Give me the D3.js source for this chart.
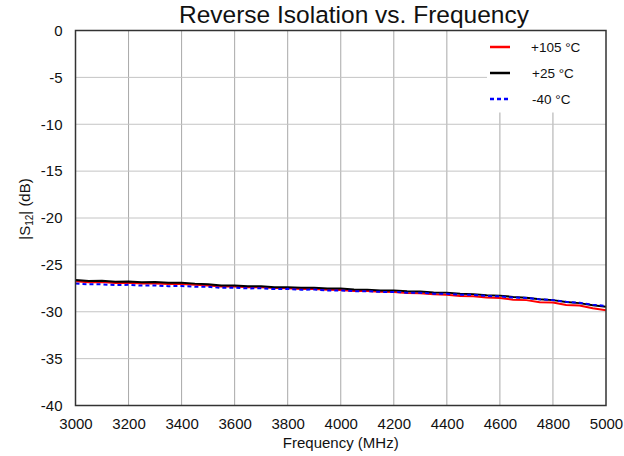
<!DOCTYPE html>
<html>
<head>
<meta charset="utf-8">
<script src="https://cdn.jsdelivr.net/npm/d3@7"></script>
<style>
  body { margin: 0; background: #fff; }
  text { font-family: "Liberation Sans", Arial, sans-serif; fill: #111; }
</style>
</head>
<body>
<div id="chart"></div>
<script>
const WIDTH = 624,
  HEIGHT = 456,
  MARGIN = { top: 30.5, right: 18, bottom: 50.5, left: 75.5 };

// frequency points, 50 MHz spacing
const freqs = d3.range(3000, 5001, 50);

const s12_hot = [
  -26.74, -26.84, -26.83, -26.92, -26.90, -26.99, -26.98, -27.04, -27.03, -27.12,
  -27.19, -27.31, -27.30, -27.38, -27.40, -27.47, -27.50, -27.57, -27.58, -27.66,
  -27.68, -27.78, -27.79, -27.88, -27.90, -28.00, -28.02, -28.14, -28.18, -28.32,
  -28.34, -28.48, -28.54, -28.72, -28.76, -28.98, -29.02, -29.28, -29.33, -29.62,
  -29.84
];
const s12_room = [
  -26.62, -26.72, -26.70, -26.80, -26.78, -26.85, -26.84, -26.90, -26.90, -27.00,
  -27.06, -27.20, -27.20, -27.28, -27.28, -27.38, -27.38, -27.44, -27.44, -27.52,
  -27.53, -27.62, -27.64, -27.72, -27.72, -27.82, -27.84, -27.94, -27.96, -28.08,
  -28.12, -28.24, -28.28, -28.42, -28.50, -28.66, -28.76, -28.96, -29.08, -29.30,
  -29.46
];
const s12_cold = [
  -26.98, -27.07, -27.08, -27.15, -27.13, -27.21, -27.19, -27.27, -27.26, -27.33,
  -27.34, -27.45, -27.43, -27.51, -27.50, -27.58, -27.56, -27.65, -27.63, -27.72,
  -27.72, -27.80, -27.80, -27.88, -27.88, -27.97, -27.98, -28.07, -28.08, -28.18,
  -28.20, -28.32, -28.36, -28.48, -28.53, -28.68, -28.76, -28.94, -29.04, -29.24,
  -29.38
];

const series_names = ["+105 °C", "+25 °C", "-40 °C"];
const series_values = [s12_hot, s12_room, s12_cold];
const series_colors = ["#ff0000", "#000000", "#0000ff"];
const series_dash = [null, null, "4,3"];

const x_ticks = d3.range(3000, 5001, 200);
const y_ticks = d3.range(-40, 1, 5);

const FONT = "Liberation Sans, Arial, sans-serif";

var svg = d3
  .select("#chart")
  .append("svg")
  .attr("width", WIDTH)
  .attr("height", HEIGHT);

var x = d3
  .scaleLinear()
  .domain([3000, 5000])
  .range([MARGIN.left, WIDTH - MARGIN.right]);

var y = d3
  .scaleLinear()
  .domain([-40, 0])
  .range([HEIGHT - MARGIN.bottom, MARGIN.top]);

// grid
svg
  .append("g")
  .selectAll("line")
  .data(x_ticks.slice(1, -1))
  .enter()
  .append("line")
  .attr("x1", d => x(d))
  .attr("x2", d => x(d))
  .attr("y1", y(0))
  .attr("y2", y(-40))
  .attr("stroke", "#a8a8a8")
  .attr("stroke-width", 1);

svg
  .append("g")
  .selectAll("line")
  .data(y_ticks.slice(1, -1))
  .enter()
  .append("line")
  .attr("x1", x(3000))
  .attr("x2", x(5000))
  .attr("y1", d => y(d))
  .attr("y2", d => y(d))
  .attr("stroke", "#c4c4c4")
  .attr("stroke-width", 1);

// axes (labels only, no tick marks); plain hyphen for negatives
var plain = d => String(d);

var x_axis = svg
  .append("g")
  .attr("transform", "translate(0," + y(-40) + ")")
  .call(
    d3.axisBottom(x)
      .tickValues(x_ticks)
      .tickFormat(plain)
      .tickSize(0)
      .tickPadding(13)
  );
x_axis.select(".domain").remove();
x_axis.selectAll("text")
  .style("font-size", "15px")
  .style("font-family", FONT)
  .attr("fill", "#111");

var y_axis = svg
  .append("g")
  .attr("transform", "translate(" + x(3000) + ",0)")
  .call(
    d3.axisLeft(y)
      .tickValues(y_ticks)
      .tickFormat(plain)
      .tickSize(0)
      .tickPadding(13)
  );
y_axis.select(".domain").remove();
y_axis.selectAll("text")
  .style("font-size", "15px")
  .style("font-family", FONT)
  .attr("fill", "#111");

// data lines
var line = d3
  .line()
  .x((d, i) => x(freqs[i]))
  .y(d => y(d));

series_values.forEach(function(vals, i) {
  svg
    .append("path")
    .datum(vals)
    .attr("d", line)
    .attr("fill", "none")
    .attr("stroke", series_colors[i])
    .attr("stroke-width", 2)
    .attr("stroke-dasharray", series_dash[i]);
});

// legend
var legend = svg.append("g");
legend
  .append("rect")
  .attr("x", 487)
  .attr("y", MARGIN.top)
  .attr("width", x(5000) - 487)
  .attr("height", 82)
  .attr("fill", "#fff");

series_names.forEach(function(name, i) {
  var ly = 47 + i * 26;
  legend
    .append("line")
    .attr("x1", 490)
    .attr("x2", 510)
    .attr("y1", ly)
    .attr("y2", ly)
    .attr("stroke", series_colors[i])
    .attr("stroke-width", 2.5)
    .attr("stroke-dasharray", series_dash[i]);
  legend
    .append("text")
    .attr("x", i === 0 ? 531 : 532)
    .attr("y", ly + 5)
    .style("font-size", "13.5px")
    .text(name);
});

// plot frame
svg
  .append("rect")
  .attr("x", x(3000))
  .attr("y", y(0))
  .attr("width", x(5000) - x(3000))
  .attr("height", y(-40) - y(0))
  .attr("fill", "none")
  .attr("stroke", "#333")
  .attr("stroke-width", 1.5);

// titles
svg
  .append("text")
  .attr("x", 354)
  .attr("y", 23)
  .attr("text-anchor", "middle")
  .style("font-size", "24.5px")
  .text("Reverse Isolation vs. Frequency");

svg
  .append("text")
  .attr("x", (x(3000) + x(5000)) / 2)
  .attr("y", 448)
  .attr("text-anchor", "middle")
  .style("font-size", "15px")
  .text("Frequency (MHz)");

var y_label = svg
  .append("text")
  .attr("transform", "translate(30,209) rotate(-90)")
  .attr("text-anchor", "middle")
  .style("font-size", "15px");
y_label.append("tspan").text("|S");
y_label.append("tspan").attr("dy", 3).style("font-size", "10px").text("12");
y_label.append("tspan").attr("dy", -3).text("| (dB)");
</script>
</body>
</html>
